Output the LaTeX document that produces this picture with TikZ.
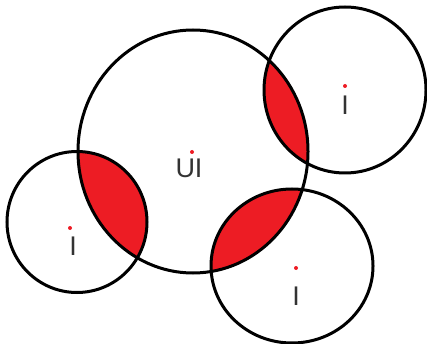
\documentclass[tikz,border=0pt]{standalone}
\usepackage{fontspec}
\setmainfont{Liberation Sans}
\definecolor{lensred}{HTML}{ED1C24}
\definecolor{labelgray}{HTML}{333333}
\begin{document}
\begin{tikzpicture}[x=1pt,y=-1pt,
  ring/.style={draw=black,line width=3pt},
  lens/.style={fill=lensred},
  ctr/.style={fill=lensred,circle,inner sep=0pt,minimum size=4pt},
  lbl/.style={text=labelgray,font=\fontsize{27}{27}\selectfont,anchor=base,inner sep=0pt}]
\useasboundingbox (0,0) rectangle (427,344);
% fills
\begin{scope}
  \clip (193,151.5) ellipse [x radius=115, y radius=121.5];
  \fill[lens] (77,222) ellipse [x radius=70, y radius=70.5];
  \fill[lens] (345,90) ellipse [x radius=81, y radius=83];
  \fill[lens] (292,266) ellipse [x radius=81, y radius=77];
\end{scope}
% outlines
\draw[ring] (193,151.5) ellipse [x radius=115, y radius=121.5];
\draw[ring] (77,222) ellipse [x radius=70, y radius=70.5];
\draw[ring] (345,90) ellipse [x radius=81, y radius=83];
\draw[ring] (292,266) ellipse [x radius=81, y radius=77];
% centre dots
\node[ctr] (d0) at (192,152) {};
\node[ctr] (d1) at (70,228) {};
\node[ctr] (d2) at (345,86) {};
\node[ctr] (d3) at (296,268) {};
% labels
\node[lbl] (t0) at (189,178) {UI};
\node[lbl] (t1) at (73,255) {I};
\node[lbl] (t2) at (345,115) {I};
\node[lbl] (t3) at (296,305) {I};
\end{tikzpicture}
\end{document}
